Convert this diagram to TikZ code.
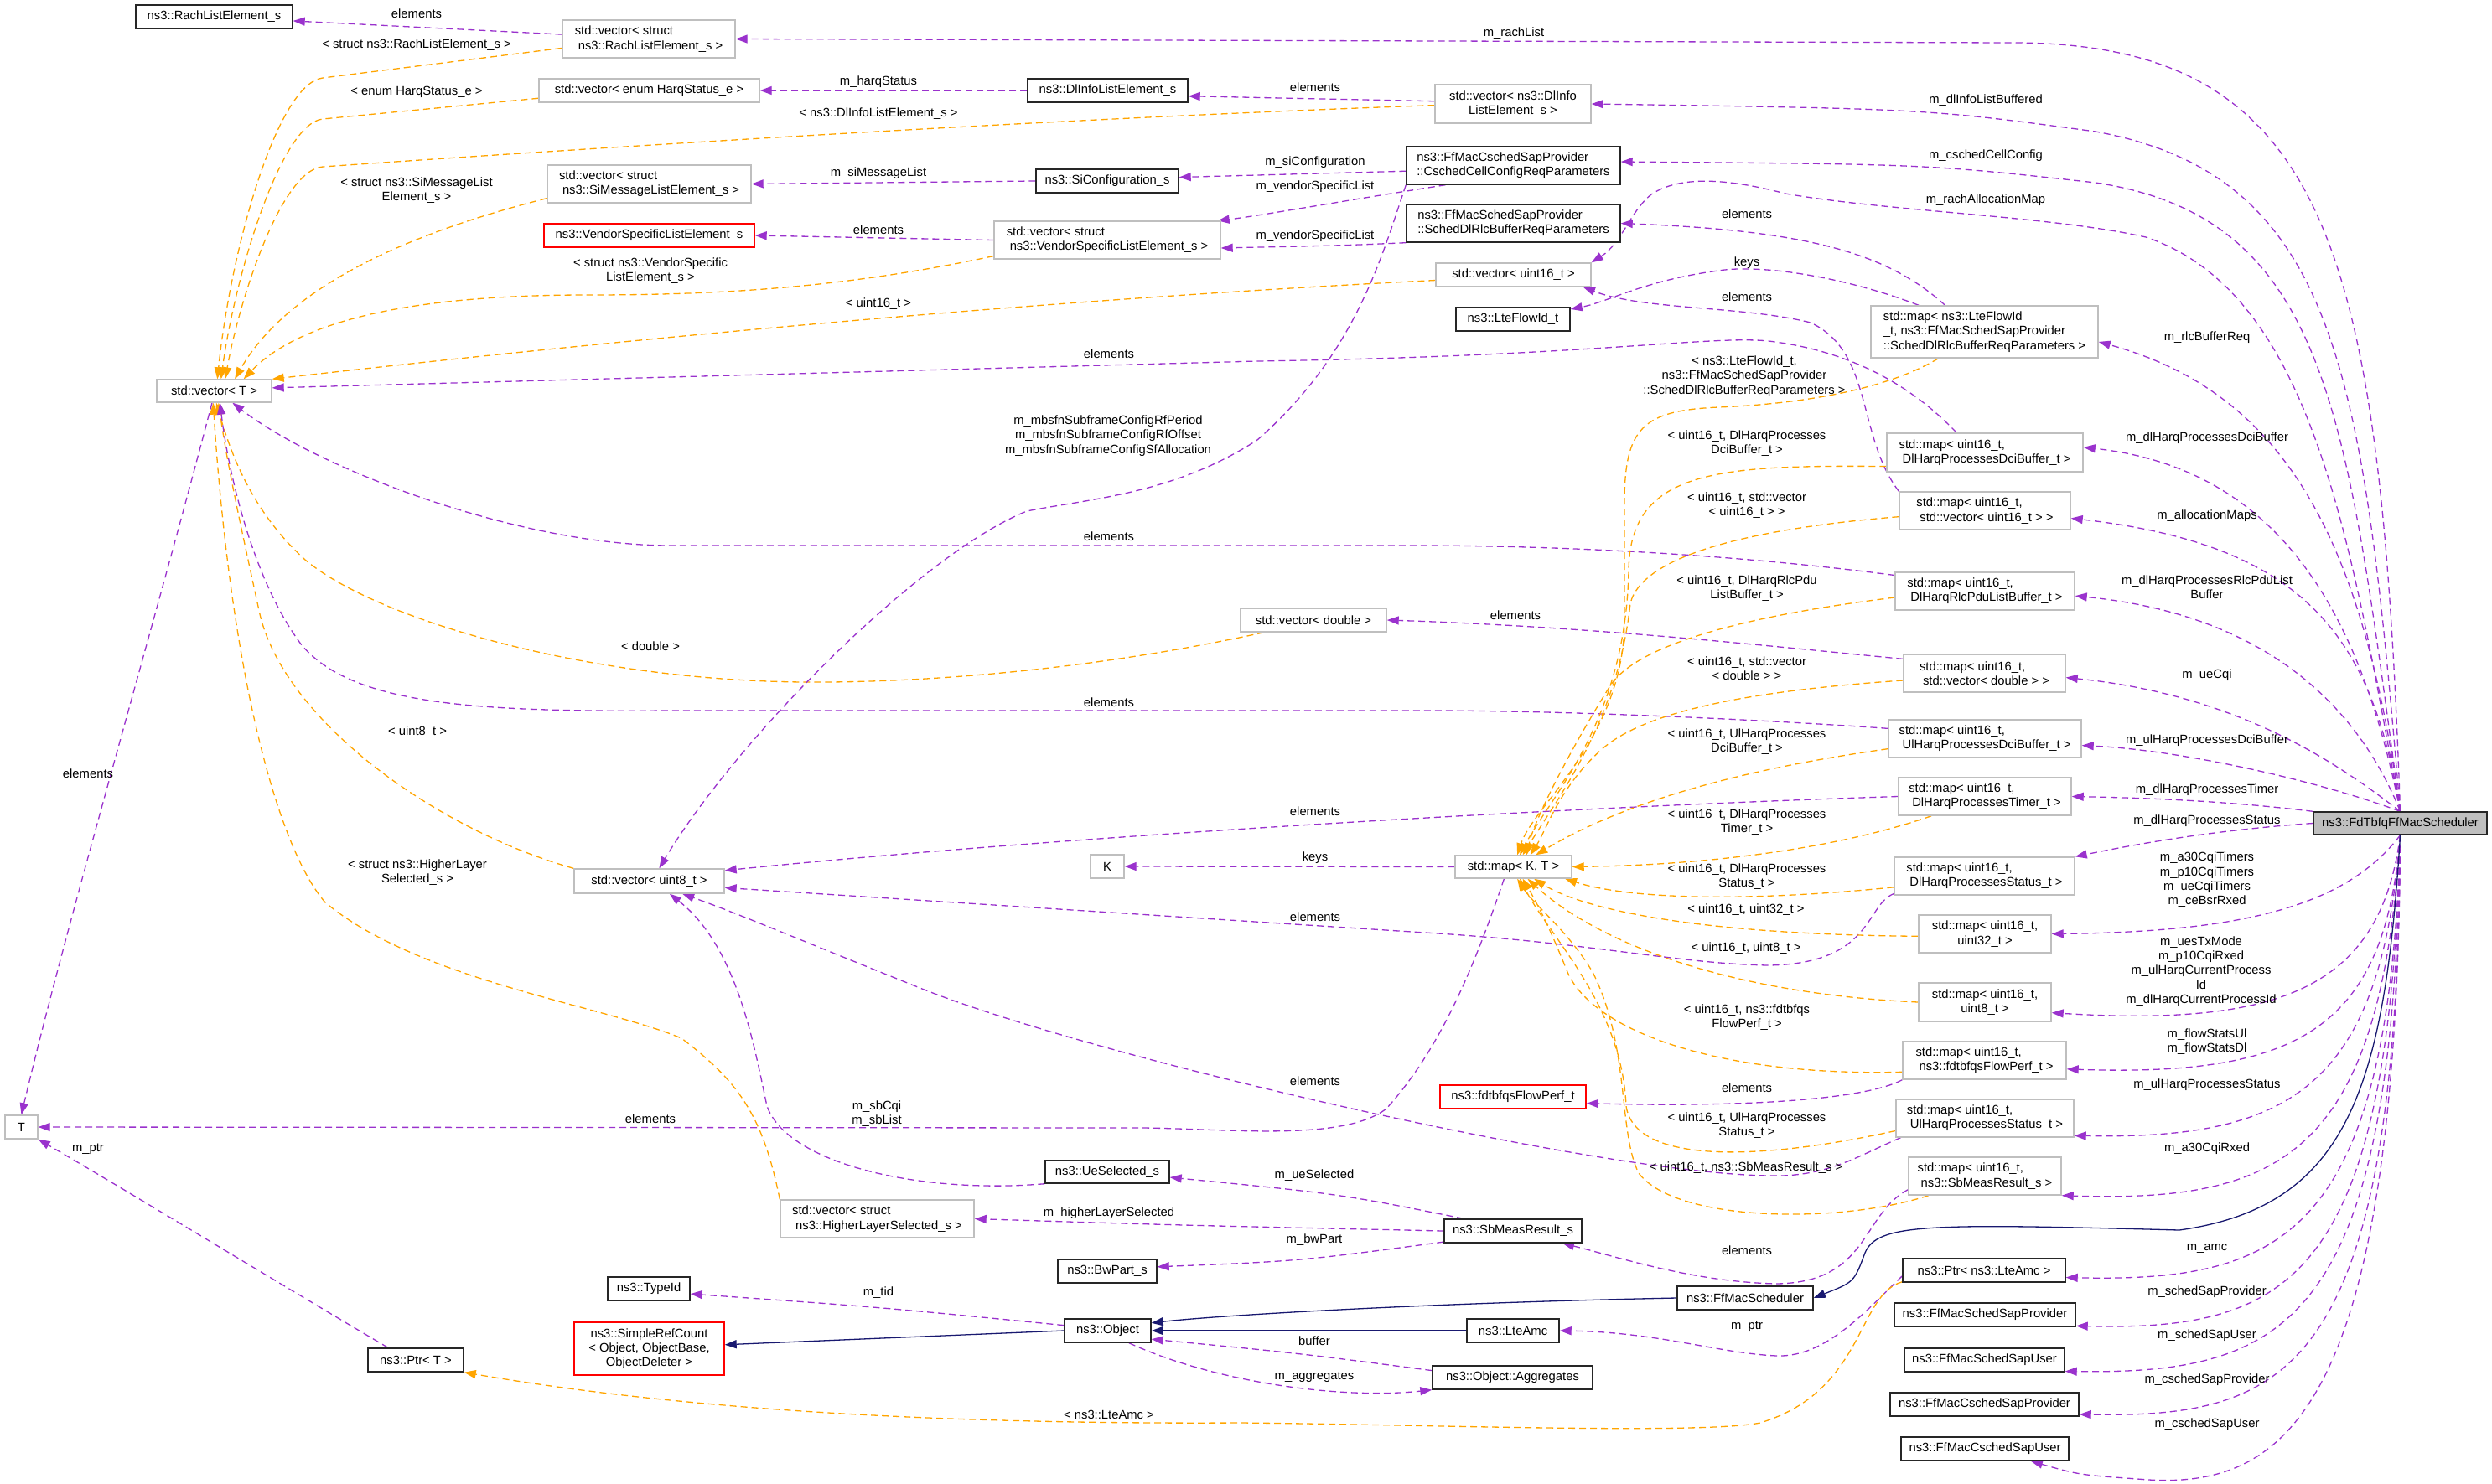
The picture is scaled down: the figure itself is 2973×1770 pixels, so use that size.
\documentclass[tikz,border=0pt]{standalone}
\usepackage{fontspec}
\setmainfont{Liberation Sans}
\usetikzlibrary{arrows.meta,backgrounds}
\definecolor{usec}{HTML}{9A32CD}
\definecolor{tplc}{HTML}{FFA500}
\definecolor{inhc}{HTML}{191970}
\definecolor{gbord}{HTML}{BFBFBF}
\definecolor{mainfill}{HTML}{BFBFBF}
\newcommand\ind{\hspace*{4pt}}
\begin{document}
\begin{tikzpicture}[x=1pt,y=-1pt,
  every node/.style={font=\fontsize{14.8}{17.3}\selectfont, inner sep=0pt},
  box/.style={draw, rectangle, line width=1.4pt, align=left, fill=white},
  gbox/.style={box, draw=gbord},
  bbox/.style={box, draw=black!85},
  rbox/.style={box, draw=red},
  cbox/.style={gbox, align=center},
  lbl/.style={align=center},
  usedge/.style={draw=usec, line width=1.3pt, dash pattern=on 8pt off 5pt, -{Triangle[length=14pt,width=10pt]}},
  tpledge/.style={draw=tplc, line width=1.3pt, dash pattern=on 8pt off 5pt, -{Triangle[length=14pt,width=10pt]}},
  inhedge/.style={draw=inhc, line width=1.3pt, -{Triangle[length=14pt,width=10pt]}},
]
\useasboundingbox (0,0) rectangle (2973,1770);

% ---------------- nodes ----------------
\node[bbox,minimum width=187,minimum height=28] (rachEl) at (255.5,20) {ns3::RachListElement\_s};
\node[gbox,minimum width=206,minimum height=45] (vecRach) at (774,46.5) {std::vector< struct\\\ind ns3::RachListElement\_s >};
\node[gbox,minimum width=263,minimum height=28] (vecHarq) at (774.5,108) {std::vector< enum HarqStatus\_e >};
\node[gbox,minimum width=243,minimum height=45] (vecSi) at (774.5,219.5) {std::vector< struct\\\ind ns3::SiMessageListElement\_s >};
\node[rbox,minimum width=251,minimum height=28] (vendorEl) at (774.5,281) {ns3::VendorSpecificListElement\_s};
\node[gbox,minimum width=137,minimum height=27] (vecT) at (255.5,466.5) {std::vector< T >};
\node[bbox,minimum width=191,minimum height=28] (dlInfoEl) at (1321.5,108) {ns3::DlInfoListElement\_s};
\node[bbox,minimum width=170,minimum height=28] (siConf) at (1321,216) {ns3::SiConfiguration\_s};
\node[gbox,minimum width=270,minimum height=45] (vecVendor) at (1321,286.5) {std::vector< struct\\\ind ns3::VendorSpecificListElement\_s >};
\node[cbox,minimum width=186,minimum height=46] (vecDlInfo) at (1805,124) {std::vector< ns3::DlInfo\\ListElement\_s >};
\node[bbox,minimum width=255,minimum height=45] (csched) at (1805.5,197.5) {ns3::FfMacCschedSapProvider\\::CschedCellConfigReqParameters};
\node[bbox,minimum width=255,minimum height=45] (schedRlc) at (1805.5,266.5) {ns3::FfMacSchedSapProvider\\::SchedDlRlcBufferReqParameters};
\node[gbox,minimum width=185,minimum height=28] (vecU16) at (1805.5,328) {std::vector< uint16\_t >};
\node[bbox,minimum width=136,minimum height=28] (lteFlow) at (1805,381) {ns3::LteFlowId\_t};
\node[gbox,minimum width=271,minimum height=62] (mapLteFlow) at (2367.5,396) {std::map< ns3::LteFlowId\\\_t, ns3::FfMacSchedSapProvider\\::SchedDlRlcBufferReqParameters >};
\node[gbox,minimum width=234,minimum height=46] (mapDlDci) at (2368,540) {std::map< uint16\_t,\\\ind DlHarqProcessesDciBuffer\_t >};
\node[gbox,minimum width=204,minimum height=45] (mapVecU16) at (2368,609.5) {std::map< uint16\_t,\\\ind std::vector< uint16\_t > >};
\node[gbox,minimum width=214,minimum height=45] (mapRlcPdu) at (2368,705.5) {std::map< uint16\_t,\\\ind DlHarqRlcPduListBuffer\_t >};
\node[gbox,minimum width=193,minimum height=45] (mapVecDouble) at (2367.5,803.5) {std::map< uint16\_t,\\\ind std::vector< double > >};
\node[gbox,minimum width=230,minimum height=45] (mapUlDci) at (2368,881.5) {std::map< uint16\_t,\\\ind UlHarqProcessesDciBuffer\_t >};
\node[gbox,minimum width=206,minimum height=45] (mapDlTimer) at (2368,950.5) {std::map< uint16\_t,\\\ind DlHarqProcessesTimer\_t >};
\node[bbox,fill=mainfill,minimum width=207,minimum height=27] (main) at (2863.5,982.5) {ns3::FdTbfqFfMacScheduler};
\node[gbox,minimum width=215,minimum height=45] (mapDlStatus) at (2367.5,1045.5) {std::map< uint16\_t,\\\ind DlHarqProcessesStatus\_t >};
\node[cbox,minimum width=158,minimum height=45] (mapU32) at (2368,1114.5) {std::map< uint16\_t,\\uint32\_t >};
\node[cbox,minimum width=158,minimum height=46] (mapU8) at (2368,1196) {std::map< uint16\_t,\\uint8\_t >};
\node[gbox,minimum width=195,minimum height=45] (mapFlowPerf) at (2367.5,1265.5) {std::map< uint16\_t,\\\ind ns3::fdtbfqsFlowPerf\_t >};
\node[gbox,minimum width=212,minimum height=45] (mapUlStatus) at (2368,1334.5) {std::map< uint16\_t,\\\ind UlHarqProcessesStatus\_t >};
\node[gbox,minimum width=182,minimum height=45] (mapSbMeas) at (2368,1403.5) {std::map< uint16\_t,\\\ind ns3::SbMeasResult\_s >};
\node[bbox,minimum width=194,minimum height=28] (ptrAmc) at (2367,1516) {ns3::Ptr< ns3::LteAmc >};
\node[bbox,minimum width=216,minimum height=28] (schedProv) at (2368,1569) {ns3::FfMacSchedSapProvider};
\node[bbox,minimum width=191,minimum height=28] (schedUser) at (2367.5,1623) {ns3::FfMacSchedSapUser};
\node[bbox,minimum width=225,minimum height=28] (cschedProv) at (2367.5,1676) {ns3::FfMacCschedSapProvider};
\node[bbox,minimum width=200,minimum height=28] (cschedUser) at (2368,1729) {ns3::FfMacCschedSapUser};
\node[gbox,minimum width=174,minimum height=28] (vecDouble) at (1567,740) {std::vector< double >};
\node[gbox,minimum width=139,minimum height=27] (mapKT) at (1805.5,1034.5) {std::map< K, T >};
\node[gbox,minimum width=40,minimum height=28] (K) at (1321,1034) {K};
\node[gbox,minimum width=179,minimum height=29] (vecU8) at (774.5,1051.5) {std::vector< uint8\_t >};
\node[gbox,minimum width=39,minimum height=28] (T) at (25.5,1345) {T};
\node[bbox,minimum width=114,minimum height=28] (ptrT) at (496,1623) {ns3::Ptr< T >};
\node[rbox,align=center,minimum width=179,minimum height=63] (simpleRef) at (774.5,1609.5) {ns3::SimpleRefCount\\< Object, ObjectBase,\\ObjectDeleter >};
\node[bbox,minimum width=98,minimum height=28] (typeId) at (774,1538) {ns3::TypeId};
\node[bbox,minimum width=148,minimum height=27] (ueSel) at (1321,1398.5) {ns3::UeSelected\_s};
\node[gbox,minimum width=231,minimum height=45] (vecHigher) at (1046.5,1454.5) {std::vector< struct\\\ind ns3::HigherLayerSelected\_s >};
\node[bbox,minimum width=118,minimum height=28] (bwPart) at (1321,1517) {ns3::BwPart\_s};
\node[bbox,minimum width=103,minimum height=28] (object) at (1321.5,1588) {ns3::Object};
\node[rbox,minimum width=174,minimum height=28] (fdtFlowPerf) at (1805,1309) {ns3::fdtbfqsFlowPerf\_t};
\node[bbox,minimum width=164,minimum height=28] (sbMeas) at (1805,1469) {ns3::SbMeasResult\_s};
\node[bbox,minimum width=162,minimum height=28] (ffMacSched) at (2082,1549) {ns3::FfMacScheduler};
\node[bbox,minimum width=110,minimum height=28] (lteAmc) at (1805,1588) {ns3::LteAmc};
\node[bbox,minimum width=191,minimum height=28] (aggr) at (1804.5,1644) {ns3::Object::Aggregates};

% ---------------- labels ----------------
\node[lbl] (l1) at (497,16) {elements};
\node[lbl] (l2) at (497,54) {< struct ns3::RachListElement\_s >};
\node[lbl] (l3) at (497,110) {< enum HarqStatus\_e >};
\node[lbl] (l4) at (497,227) {< struct ns3::SiMessageList\\Element\_s >};
\node[lbl] (l5) at (776,323) {< struct ns3::VendorSpecific\\ListElement\_s >};
\node[lbl] (l6) at (1048,98) {m\_harqStatus};
\node[lbl] (l7) at (1048,136) {< ns3::DlInfoListElement\_s >};
\node[lbl] (l8) at (1048,207) {m\_siMessageList};
\node[lbl] (l9) at (1048,274) {elements};
\node[lbl] (l10) at (1048,363) {< uint16\_t >};
\node[lbl] (l11) at (1323,422) {elements};
\node[lbl] (l12) at (1322,520) {m\_mbsfnSubframeConfigRfPeriod\\m\_mbsfnSubframeConfigRfOffset\\m\_mbsfnSubframeConfigSfAllocation};
\node[lbl] (l13) at (1806,40) {m\_rachList};
\node[lbl] (l14) at (1569,104) {elements};
\node[lbl] (l15) at (1569,194) {m\_siConfiguration};
\node[lbl] (l16) at (1569,223) {m\_vendorSpecificList};
\node[lbl] (l17) at (1569,282) {m\_vendorSpecificList};
\node[lbl] (l18) at (2084,255) {elements};
\node[lbl] (l19) at (2084,314) {keys};
\node[lbl] (l20) at (2084,354) {elements};
\node[lbl] (l21) at (2081,449) {< ns3::LteFlowId\_t,\\ns3::FfMacSchedSapProvider\\::SchedDlRlcBufferReqParameters >};
\node[lbl] (l22) at (2084,529) {< uint16\_t, DlHarqProcesses\\DciBuffer\_t >};
\node[lbl] (l23) at (2084,603) {< uint16\_t, std::vector\\< uint16\_t > >};
\node[lbl] (l24) at (2369,120) {m\_dlInfoListBuffered};
\node[lbl] (l25) at (2369,186) {m\_cschedCellConfig};
\node[lbl] (l26) at (2369,239) {m\_rachAllocationMap};
\node[lbl] (l27) at (2633,403) {m\_rlcBufferReq};
\node[lbl] (l28) at (2633,523) {m\_dlHarqProcessesDciBuffer};
\node[lbl] (l29) at (2633,616) {m\_allocationMaps};
\node[lbl] (l30) at (2633,701) {m\_dlHarqProcessesRlcPduList\\Buffer};
\node[lbl] (l31) at (2633,806) {m\_ueCqi};
\node[lbl] (l32) at (2633,884) {m\_ulHarqProcessesDciBuffer};
\node[lbl] (l33) at (2633,943) {m\_dlHarqProcessesTimer};
\node[lbl] (l34) at (2633,980) {m\_dlHarqProcessesStatus};
\node[lbl] (l35) at (2633,1050) {m\_a30CqiTimers\\m\_p10CqiTimers\\m\_ueCqiTimers\\m\_ceBsrRxed};
\node[lbl] (l36) at (2626,1159) {m\_uesTxMode\\m\_p10CqiRxed\\m\_ulHarqCurrentProcess\\Id\\m\_dlHarqCurrentProcessId};
\node[lbl] (l37) at (2633,1243) {m\_flowStatsUl\\m\_flowStatsDl};
\node[lbl] (l38) at (2633,1295) {m\_ulHarqProcessesStatus};
\node[lbl] (l39) at (2633,1371) {m\_a30CqiRxed};
\node[lbl] (l40) at (2633,1490) {m\_amc};
\node[lbl] (l41) at (2633,1542) {m\_schedSapProvider};
\node[lbl] (l42) at (2633,1594) {m\_schedSapUser};
\node[lbl] (l43) at (2633,1647) {m\_cschedSapProvider};
\node[lbl] (l44) at (2633,1700) {m\_cschedSapUser};
\node[lbl] (l45) at (2084,702) {< uint16\_t, DlHarqRlcPdu\\ListBuffer\_t >};
\node[lbl] (l46) at (1808,734) {elements};
\node[lbl] (l47) at (2084,798) {< uint16\_t, std::vector\\< double > >};
\node[lbl] (l48) at (2084,885) {< uint16\_t, UlHarqProcesses\\DciBuffer\_t >};
\node[lbl] (l49) at (1569,968) {elements};
\node[lbl] (l50) at (2084,981) {< uint16\_t, DlHarqProcesses\\Timer\_t >};
\node[lbl] (l51) at (1569,1024) {keys};
\node[lbl] (l52) at (2084,1046) {< uint16\_t, DlHarqProcesses\\Status\_t >};
\node[lbl] (l53) at (2083,1086) {< uint16\_t, uint32\_t >};
\node[lbl] (l54) at (1569,1094) {elements};
\node[lbl] (l55) at (2083,1132) {< uint16\_t, uint8\_t >};
\node[lbl] (l56) at (1323,640) {elements};
\node[lbl] (l57) at (776,771) {< double >};
\node[lbl] (l58) at (1323,838) {elements};
\node[lbl] (l59) at (498,874) {< uint8\_t >};
\node[lbl] (l60) at (105,923) {elements};
\node[lbl] (l61) at (498,1041) {< struct ns3::HigherLayer\\Selected\_s >};
\node[lbl] (l62) at (105,1371) {m\_ptr};
\node[lbl] (l63) at (776,1335) {elements};
\node[lbl] (l64) at (1046,1329) {m\_sbCqi\\m\_sbList};
\node[lbl] (l65) at (1323,1448) {m\_higherLayerSelected};
\node[lbl] (l66) at (1048,1543) {m\_tid};
\node[lbl] (l67) at (1323,1688) {< ns3::LteAmc >};
\node[lbl] (l68) at (2084,1214) {< uint16\_t, ns3::fdtbfqs\\FlowPerf\_t >};
\node[lbl] (l69) at (1569,1290) {elements};
\node[lbl] (l70) at (2084,1298) {elements};
\node[lbl] (l71) at (2084,1343) {< uint16\_t, UlHarqProcesses\\Status\_t >};
\node[lbl] (l72) at (2083,1394) {< uint16\_t, ns3::SbMeasResult\_s >};
\node[lbl] (l73) at (1568,1403) {m\_ueSelected};
\node[lbl] (l74) at (1568,1480) {m\_bwPart};
\node[lbl] (l75) at (2084,1492) {elements};
\node[lbl] (l76) at (2084,1583) {m\_ptr};
\node[lbl] (l77) at (1568,1600) {buffer};
\node[lbl] (l78) at (1568,1643) {m\_aggregates};

% ---------------- edges ----------------
\begin{scope}[on background layer]
\fill[white] (0,0) rectangle (2973,1770);

% main -> top fan
\draw[usedge] (main.north) .. controls (2840,300) and (2780,51) .. (2400,51) -- (vecRach.east);
\draw[usedge] (main.north) .. controls (2820,450) and (2790,210) .. (2500,157) .. controls (2300,130) .. (vecDlInfo.east);
\draw[usedge] (main.north) .. controls (2800,500) and (2780,260) .. (2500,218) .. controls (2300,196) .. (csched.2);
\draw[usedge] (main.north) .. controls (2805,650) and (2760,350) .. (2560,283) .. controls (2450,258) and (2250,252) .. (2130,231) .. controls (2080,218) and (2010,205) .. (1970,232) .. controls (1945,252) and (1935,290) .. (vecU16.north east);
\draw[usedge] (main.north) .. controls (2820,650) and (2730,470) .. (mapLteFlow.-5);
\draw[usedge] (main.north) .. controls (2820,750) and (2730,560) .. (mapDlDci.3);
\draw[usedge] (main.north) .. controls (2830,760) and (2750,650) .. (mapVecU16.-5);
\draw[usedge] (main.north) .. controls (2820,860) and (2720,735) .. (mapRlcPdu.-3);
\draw[usedge] (main.north) .. controls (2800,920) and (2680,830) .. (mapVecDouble.-3);
\draw[usedge] (main.north) .. controls (2760,930) and (2600,895) .. (mapUlDci.-4);
\draw[usedge] (main.north west) .. controls (2650,955) and (2550,952) .. (mapDlTimer.east);
\draw[usedge] (main.west) .. controls (2650,990) and (2560,1005) .. (mapDlStatus.north east);
% main -> bottom fan
\draw[usedge] (main.south) .. controls (2800,1080) and (2680,1112) .. (mapU32.east);
\draw[usedge] (main.south) .. controls (2840,1180) and (2720,1225) .. (mapU8.-9);
\draw[usedge] (main.south) .. controls (2845,1230) and (2740,1285) .. (mapFlowPerf.-6);
\draw[usedge] (main.south) .. controls (2840,1300) and (2730,1360) .. (mapUlStatus.-11);
\draw[usedge] (main.south) .. controls (2840,1380) and (2720,1435) .. (mapSbMeas.south east);
\draw[usedge] (main.south) .. controls (2850,1480) and (2720,1530) .. (ptrAmc.-5);
\draw[usedge] (main.south) .. controls (2850,1530) and (2730,1588) .. (schedProv.-7);
\draw[usedge] (main.south) .. controls (2855,1580) and (2730,1640) .. (schedUser.-8);
\draw[usedge] (main.south) .. controls (2860,1640) and (2730,1692) .. (cschedProv.-6);
\draw[usedge] (main.south) .. controls (2860,1700) and (2720,1780) .. (2550,1765) .. controls (2480,1760) .. (cschedUser.-15);
\draw[inhedge] (main.south) .. controls (2845,1300) and (2800,1440) .. (2600,1468) .. controls (2300,1460) and (2240,1460) .. (2225,1495) .. controls (2212,1530) .. (ffMacSched.east);

% vectors of structs
\draw[usedge] (vecRach.177) -- (rachEl.-3);
\draw[tpledge] (vecRach.186) -- (385,93) .. controls (330,100) and (275,300) .. (vecT.75);
\draw[tpledge] (vecHarq.184) -- (385,142) .. controls (335,147) and (280,330) .. (vecT.60);
\draw[tpledge] (vecDlInfo.181) .. controls (1300,140) and (800,170) .. (385,199) .. controls (335,203) and (285,360) .. (vecT.47);
\draw[tpledge] (vecSi.188) .. controls (520,270) and (350,330) .. (vecT.30);
\draw[tpledge] (vecVendor.188) .. controls (1000,345) and (850,352) .. (700,352) .. controls (500,352) and (360,380) .. (vecT.22);
\draw[tpledge] (vecU16.184) .. controls (1200,360) and (700,410) .. (vecT.north east);
\draw[tpledge] (vecDouble.194) .. controls (1300,800) and (1100,815) .. (960,814) .. controls (700,812) and (450,740) .. (364,668) .. controls (300,610) and (275,540) .. (vecT.-80);
\draw[tpledge] (vecU8.north west) .. controls (520,990) and (340,860) .. (310,733) .. controls (290,640) and (272,560) .. (vecT.-70);
\draw[tpledge] (vecHigher.north west) .. controls (910,1330) and (880,1290) .. (813,1239) .. controls (720,1200) and (500,1170) .. (388,1077) .. controls (330,1010) and (275,800) .. (vecT.-95);
\draw[usedge] (mapDlDci.145) .. controls (2290,470) and (2220,420) .. (2110,407) .. controls (2040,400) and (1900,425) .. (1500,431) -- (vecT.3);
\draw[usedge] (mapRlcPdu.170) .. controls (2150,672) and (1950,652) .. (1700,651) -- (800,651) .. controls (620,651) and (380,560) .. (vecT.-33);
\draw[usedge] (mapUlDci.174) .. controls (2150,862) and (1900,848) .. (1700,848) -- (800,848) .. controls (560,850) and (420,840) .. (360,770) .. controls (300,690) and (272,560) .. (vecT.-64);
\draw[usedge] (vecT.-100) .. controls (180,760) and (80,1100) .. (T.north);
\draw[usedge] (mapKT.-128) .. controls (1760,1150) and (1720,1250) .. (1654,1323) .. controls (1600,1365) and (1450,1345) .. (1346,1346) -- (T.east);
\draw[usedge] (mapKT.west) -- (K.east);
\draw[usedge] (mapDlTimer.west) .. controls (1900,962) and (1300,995) .. (vecU8.8);
\draw[usedge] (mapDlStatus.191) .. controls (2225,1080) and (2235,1150) .. (2110,1152) .. controls (2000,1150) and (1900,1125) .. (1700,1113) -- (vecU8.-5);
\draw[usedge] (mapUlStatus.193) .. controls (2215,1380) and (2180,1405) .. (2110,1403) .. controls (1900,1400) and (1300,1260) .. (1100,1180) .. controls (950,1120) and (880,1090) .. (vecU8.-21);
\draw[usedge] (ueSel.south west) .. controls (1100,1425) and (940,1390) .. (915,1320) .. controls (900,1250) and (880,1130) .. (vecU8.-32);
\draw[usedge] (csched.south west) .. controls (1650,300) and (1620,420) .. (1500,525) .. controls (1400,590) and (1300,595) .. (1225,610) .. controls (1100,660) and (880,880) .. (vecU8.52);
\draw[usedge] (mapVecDouble.170) .. controls (2100,770) and (1900,748) .. (vecDouble.east);
\draw[usedge] (mapVecU16.north west) .. controls (2215,520) and (2235,420) .. (2160,385) .. controls (2080,365) and (1960,370) .. (vecU16.-10);
\draw[usedge] (mapLteFlow.158) .. controls (2200,330) and (2100,315) .. (2050,323) .. controls (1960,335) and (1920,360) .. (lteFlow.10);
\draw[usedge] (mapLteFlow.146) .. controls (2250,300) and (2150,275) .. (schedRlc.east);
\draw[usedge] (schedRlc.south west) .. controls (1600,293) .. (vecVendor.-4);
\draw[usedge] (csched.-164) .. controls (1600,240) and (1500,258) .. (vecVendor.10);
\draw[usedge] (csched.183) -- (siConf.3);
\draw[usedge] (siConf.west) -- (vecSi.east);
\draw[usedge] (dlInfoEl.west) -- (vecHarq.east);
\draw[usedge] (vecDlInfo.178) -- (dlInfoEl.-4);
\draw[usedge] (vecVendor.west) -- (vendorEl.east);
\draw[usedge] (mapFlowPerf.south west) .. controls (2230,1310) and (2100,1322) .. (fdtFlowPerf.-5);
\draw[usedge] (mapSbMeas.190) .. controls (2220,1450) and (2230,1530) .. (2120,1532) .. controls (2020,1530) and (1930,1500) .. (sbMeas.-14);
\draw[usedge] (sbMeas.166) .. controls (1600,1425) .. (ueSel.-5);
\draw[usedge] (sbMeas.west) .. controls (1400,1462) .. (vecHigher.east);
\draw[usedge] (sbMeas.-171) .. controls (1550,1505) .. (bwPart.5);
\draw[usedge] (object.173) .. controls (1050,1560) .. (typeId.-7);
\draw[usedge] (aggr.175) .. controls (1550,1615) .. (object.-11);
\draw[usedge] (object.-30) .. controls (1450,1650) and (1600,1670) .. (aggr.south west);
\draw[usedge] (ptrAmc.-176) .. controls (2230,1560) and (2180,1620) .. (2120,1618) .. controls (2050,1615) and (1980,1590) .. (lteAmc.east);
\draw[tpledge] (ptrAmc.-172) .. controls (2215,1545) and (2225,1660) .. (2100,1698) .. controls (2030,1712) and (1700,1700) .. (1480,1698) .. controls (1100,1700) and (800,1680) .. (ptrT.south east);
\draw[usedge] (ptrT.156) .. controls (330,1530) and (150,1420) .. (T.south east);
\draw[inhedge] (ffMacSched.west) .. controls (1700,1555) and (1450,1570) .. (object.10);
\draw[inhedge] (lteAmc.west) -- (object.east);
\draw[inhedge] (object.west) -- (simpleRef.3);

% template instances of std::map< K, T >
\draw[tpledge] (mapLteFlow.-150) .. controls (2250,465) and (2150,482) .. (2050,486) .. controls (1960,490) and (1938,510) .. (1938,600) -- (1938,740) .. controls (1938,880) and (1830,960) .. (mapKT.72);
\draw[tpledge] (mapDlDci.188) .. controls (2050,555) and (1945,560) .. (1943,680) .. controls (1940,860) and (1850,950) .. (mapKT.62);
\draw[tpledge] (mapVecU16.184) .. controls (2100,630) and (1960,660) .. (1945,720) .. controls (1930,860) and (1860,950) .. (mapKT.52);
\draw[tpledge] (mapRlcPdu.184) .. controls (2080,735) and (1950,770) .. (1920,820) .. controls (1870,900) and (1830,980) .. (mapKT.42);
\draw[tpledge] (mapVecDouble.185) .. controls (2080,825) and (1960,850) .. (1910,895) .. controls (1860,940) and (1845,990) .. (mapKT.35);
\draw[tpledge] (mapUlDci.186) .. controls (2100,915) and (1950,950) .. (mapKT.28);
\draw[tpledge] (mapDlTimer.-160) .. controls (2200,1010) and (2050,1032) .. (mapKT.east);
\draw[tpledge] (mapDlStatus.187) .. controls (2100,1075) and (1950,1075) .. (mapKT.-13);
\draw[tpledge] (mapU32.182) .. controls (2000,1115) and (1880,1080) .. (mapKT.-30);
\draw[tpledge] (mapU8.west) .. controls (2050,1185) and (1900,1120) .. (mapKT.-40);
\draw[tpledge] (mapFlowPerf.188) .. controls (2050,1285) and (1900,1230) .. (1870,1160) .. controls (1850,1110) and (1835,1080) .. (mapKT.-52);
\draw[tpledge] (mapUlStatus.188) .. controls (2100,1385) and (1950,1390) .. (1940,1320) .. controls (1935,1200) and (1850,1120) .. (mapKT.-62);
\draw[tpledge] (mapSbMeas.-161) .. controls (2200,1460) and (2000,1460) .. (1955,1400) .. controls (1930,1350) and (1945,1250) .. (1900,1160) .. controls (1870,1110) and (1830,1080) .. (mapKT.-72);
\end{scope}
\end{tikzpicture}
\end{document}
